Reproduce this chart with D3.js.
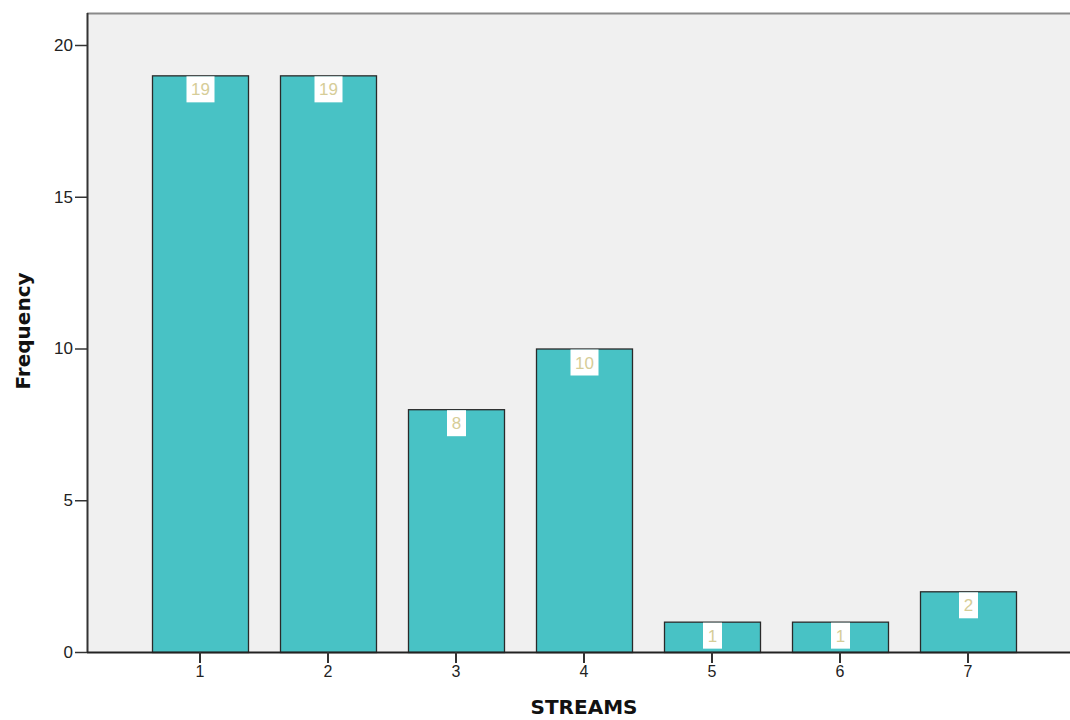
<!DOCTYPE html>
<html><head><meta charset="utf-8">
<script src="https://cdn.jsdelivr.net/npm/d3@7"></script>
<style>body{margin:0;background:#fff;} svg{display:block;}</style>
</head><body>
<svg id="c" width="1070" height="720"></svg>
<script>
const categories = ["1","2","3","4","5","6","7"];
const frequencies = [19, 19, 8, 10, 1, 1, 2];
const yTicks = [0, 5, 10, 15, 20];

const svg = d3.select("#c");
const plotLeft = 87, plotTop = 13, plotBottom = 652, plotRight = 1075;
const x = d3.scaleBand().domain(categories).range([136, 1032]).paddingInner(0.25).paddingOuter(0.125);
const y = d3.scaleLinear().domain([0, 20]).range([652, 45]);
const sans = "Arial, 'Liberation Sans', sans-serif";

svg.append("rect").attr("x", plotLeft).attr("y", plotTop).attr("width", plotRight - plotLeft).attr("height", plotBottom - plotTop).attr("fill", "#f0f0f0");
svg.append("line").attr("x1", plotLeft).attr("x2", plotRight).attr("y1", plotTop + 0.5).attr("y2", plotTop + 0.5).attr("stroke", "#8a8a8a").attr("stroke-width", 2);

const bars = svg.append("g");
bars.selectAll("rect").data(frequencies).join("rect")
  .attr("x", (d, i) => x(categories[i]) + 0.5)
  .attr("y", d => y(d) + 0.5)
  .attr("width", x.bandwidth())
  .attr("height", d => y(0) - y(d))
  .attr("fill", "#48c2c5")
  .attr("stroke", "#2a2a2a")
  .attr("stroke-width", 1.3);

const labels = svg.append("g").style("font-family", sans).style("font-size", "17px");
frequencies.forEach((d, i) => {
  const cx = x(categories[i]) + x.bandwidth() / 2 + 0.5;
  const w = String(d).length > 1 ? 28 : 19;
  labels.append("rect").attr("x", cx - w / 2).attr("y", y(d) + 1).attr("width", w).attr("height", 26).attr("fill", "#ffffff");
  labels.append("text").attr("x", cx).attr("y", y(d) + 20).attr("text-anchor", "middle").attr("fill", "#d6cd98").text(d);
});

const yAxis = svg.append("g").attr("transform", `translate(${plotLeft},0)`)
  .call(d3.axisLeft(y).tickValues(yTicks).tickSize(12).tickPadding(2).tickFormat(d3.format("d")));
yAxis.select(".domain").attr("d", `M0.5,${plotTop}V${plotBottom}`).attr("stroke", "#333").attr("stroke-width", 2);
yAxis.selectAll(".tick line").attr("stroke", "#333").attr("stroke-width", 1.5);
yAxis.selectAll("text").style("font-family", sans).style("font-size", "17px").attr("fill", "#222");

const xAxis = svg.append("g").attr("transform", `translate(0,${plotBottom})`)
  .call(d3.axisBottom(x).tickSize(11).tickPadding(3));
xAxis.select(".domain").attr("d", `M${plotLeft},0.5H${plotRight}`).attr("stroke", "#222").attr("stroke-width", 2);
xAxis.selectAll(".tick line").attr("stroke", "#333").attr("stroke-width", 2);
xAxis.selectAll("text").style("font-family", sans).style("font-size", "16px").attr("fill", "#222");

svg.append("text").attr("transform", "translate(30,331) rotate(-90)").attr("text-anchor", "middle")
  .style("font-family", "'DejaVu Sans', sans-serif").style("font-size", "20px").style("font-weight", "bold").attr("fill", "#111").text("Frequency");
svg.append("text").attr("x", 584).attr("y", 714).attr("text-anchor", "middle")
  .style("font-family", "'DejaVu Sans', sans-serif").style("font-size", "20px").style("font-weight", "bold").attr("fill", "#111").text("STREAMS");
</script>
</body></html>
